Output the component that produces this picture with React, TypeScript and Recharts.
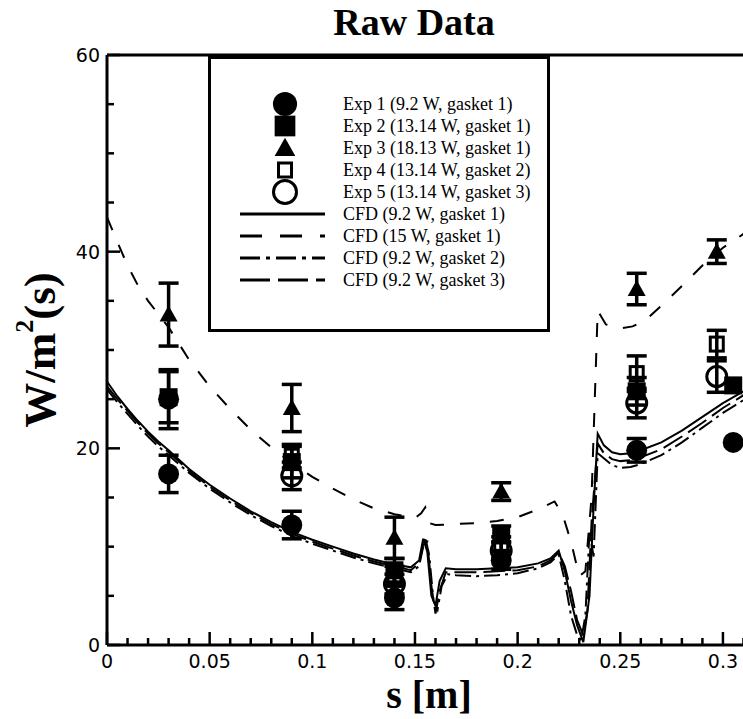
import React from 'react';
import { ComposedChart, Line, Scatter, XAxis, YAxis, ErrorBar, Legend } from 'recharts';

// ---------- tick labels ----------
const xTicks = [0, 0.01, 0.02, 0.03, 0.04, 0.05, 0.06, 0.07, 0.08, 0.09, 0.1, 0.11, 0.12, 0.13, 0.14, 0.15, 0.16, 0.17, 0.18, 0.19, 0.2, 0.21, 0.22, 0.23, 0.24, 0.25, 0.26, 0.27, 0.28, 0.29, 0.3, 0.31];
const xMajorTicks = [0, 0.05, 0.1, 0.15, 0.2, 0.25, 0.3];
const xMajorLabels = ['0', '0.05', '0.1', '0.15', '0.2', '0.25', '0.3'];
const yTicks = [0, 5, 10, 15, 20, 25, 30, 35, 40, 45, 50, 55, 60];
const yMajorTicks = [0, 20, 40, 60];
const yMajorLabels = ['0', '20', '40', '60'];

// ---------- experimental series ----------
const exp1X = [0.03, 0.03, 0.09, 0.14, 0.192, 0.258, 0.305];
const exp1Y = [17.4, 25.0, 12.2, 4.8, 8.6, 19.8, 20.6];
const exp1E = [1.9, 3.0, 1.4, 1.2, 0.9, 1.2, 0];

const exp2X = [0.03, 0.09, 0.14, 0.192, 0.258, 0.305];
const exp2Y = [25.2, 18.6, 7.6, 11.3, 25.8, 26.4];
const exp2E = [2.6, 1.6, 1.2, 0.8, 1.4, 0];

const exp3X = [0.03, 0.09, 0.14, 0.192, 0.258, 0.297];
const exp3Y = [33.6, 24.1, 10.9, 15.6, 36.2, 40.0];
const exp3E = [3.2, 2.4, 2.1, 0.9, 1.6, 1.2];

const exp4X = [0.09, 0.14, 0.192, 0.258, 0.297];
const exp4Y = [19.2, 7.0, 10.3, 27.6, 30.6];
const exp4E = [1.2, 1.0, 0.7, 1.8, 1.4];

const exp5X = [0.09, 0.14, 0.192, 0.258, 0.297];
const exp5Y = [17.2, 6.2, 9.6, 24.6, 27.3];
const exp5E = [1.4, 1.0, 0.8, 1.5, 1.6];

// ---------- CFD series ----------
const cfd1X = [0, 0.005, 0.01, 0.015, 0.02, 0.025, 0.03, 0.04, 0.05, 0.06, 0.07, 0.08, 0.09, 0.1, 0.11, 0.12, 0.13, 0.14, 0.148, 0.152, 0.154, 0.156, 0.158, 0.16, 0.162, 0.165, 0.17, 0.18, 0.19, 0.2, 0.21, 0.216, 0.22, 0.223, 0.226, 0.229, 0.232, 0.235, 0.237, 0.239, 0.242, 0.246, 0.25, 0.255, 0.26, 0.27, 0.28, 0.29, 0.3, 0.31, 0.32];
const cfd1Y = [26.8, 25.3, 24.0, 22.8, 21.7, 20.7, 19.8, 17.9, 16.3, 14.9, 13.6, 12.5, 11.5, 10.7, 10.0, 9.3, 8.7, 8.2, 7.9, 8.6, 10.8, 9.5, 5.0, 4.0, 6.5, 7.8, 7.7, 7.7, 7.8, 7.9, 8.3, 8.8, 9.6, 7.5, 4.5, 2.0, 0.3, 5.0, 14.0, 21.5, 20.3, 19.6, 19.4, 19.5, 19.8, 20.6, 21.8, 23.2, 24.6, 25.8, 26.5];

const cfd2X = [0, 0.005, 0.01, 0.015, 0.02, 0.03, 0.04, 0.05, 0.06, 0.07, 0.08, 0.09, 0.1, 0.11, 0.12, 0.13, 0.14, 0.15, 0.153, 0.155, 0.157, 0.16, 0.17, 0.18, 0.19, 0.2, 0.21, 0.218, 0.222, 0.226, 0.23, 0.233, 0.236, 0.239, 0.243, 0.25, 0.256, 0.262, 0.27, 0.28, 0.29, 0.3, 0.31, 0.32];
const cfd2Y = [43.5, 41.0, 38.6, 36.6, 35.0, 32.3, 29.0, 26.3, 24.0, 21.9, 20.1, 18.5, 17.1, 15.9, 14.8, 13.9, 13.3, 12.9, 13.4, 14.0, 12.4, 12.2, 12.3, 12.4, 12.6, 13.0, 13.8, 14.6, 13.2, 10.5, 7.0, 7.5, 15.0, 34.0, 32.6, 32.2, 32.4, 33.0, 34.5, 36.5, 38.6, 40.4, 41.8, 43.0];

const cfd3X = [0, 0.005, 0.01, 0.015, 0.02, 0.025, 0.03, 0.04, 0.05, 0.06, 0.07, 0.08, 0.09, 0.1, 0.11, 0.12, 0.13, 0.14, 0.148, 0.152, 0.155, 0.157, 0.159, 0.161, 0.163, 0.166, 0.17, 0.18, 0.19, 0.2, 0.21, 0.216, 0.22, 0.223, 0.226, 0.229, 0.231, 0.233, 0.235, 0.237, 0.239, 0.242, 0.246, 0.25, 0.255, 0.26, 0.27, 0.28, 0.29, 0.3, 0.31, 0.32];
const cfd3Y = [26.0, 24.7, 23.5, 22.3, 21.2, 20.2, 19.3, 17.5, 15.9, 14.5, 13.2, 12.1, 11.1, 10.3, 9.6, 8.9, 8.3, 7.8, 7.4, 8.0, 11.0, 9.0, 4.5, 3.6, 6.0, 7.2, 7.1, 7.0, 7.1, 7.3, 7.8, 8.4, 9.2, 6.5, 3.0, 1.0, 0.5, 3.0, 11.5, 9.0, 19.5, 19.0, 18.3, 18.0, 18.1, 18.4, 19.3, 20.6, 22.1, 23.6, 24.9, 25.8];

const cfd4X = [0, 0.005, 0.01, 0.015, 0.02, 0.025, 0.03, 0.04, 0.05, 0.06, 0.07, 0.08, 0.09, 0.1, 0.11, 0.12, 0.13, 0.14, 0.148, 0.152, 0.154, 0.156, 0.158, 0.16, 0.162, 0.165, 0.17, 0.18, 0.19, 0.2, 0.21, 0.216, 0.22, 0.223, 0.226, 0.229, 0.232, 0.234, 0.236, 0.239, 0.242, 0.246, 0.25, 0.255, 0.26, 0.27, 0.28, 0.29, 0.3, 0.31, 0.32];
const cfd4Y = [26.3, 25.0, 23.8, 22.6, 21.5, 20.5, 19.6, 17.7, 16.1, 14.7, 13.4, 12.3, 11.3, 10.5, 9.8, 9.1, 8.5, 8.0, 7.6, 8.3, 10.2, 10.5, 6.0, 3.2, 5.5, 7.4, 7.4, 7.4, 7.5, 7.6, 8.0, 8.6, 9.4, 8.0, 5.5, 2.5, 1.0, 3.5, 12.5, 20.5, 19.5, 18.9, 18.7, 18.8, 19.1, 19.9, 21.2, 22.6, 24.1, 25.4, 26.2];

// ---------- legend labels ----------
const expNames = ['Exp 1 (9.2 W, gasket 1)', 'Exp 2 (13.14 W, gasket 1)', 'Exp 3 (18.13 W, gasket 1)', 'Exp 4 (13.14 W, gasket 2)', 'Exp 5 (13.14 W, gasket 3)'];
const cfdNames = ['CFD (9.2 W, gasket 1)', 'CFD (15 W, gasket 1)', 'CFD (9.2 W, gasket 2)', 'CFD (9.2 W, gasket 3)'];
const cfdDash = ['', '14 16', '16 5 3 5', '22 7'];
const legendDash = ['', '22 18', '20 6 4 6', '30 8'];

const toPts = (xs: number[], ys: number[], es?: number[]) =>
  xs.map((x, i) => ({ x, y: ys[i], err: es ? es[i] : 0 }));

const exp1 = toPts(exp1X, exp1Y, exp1E);
const exp2 = toPts(exp2X, exp2Y, exp2E);
const exp3 = toPts(exp3X, exp3Y, exp3E);
const exp4 = toPts(exp4X, exp4Y, exp4E);
const exp5 = toPts(exp5X, exp5Y, exp5E);
const cfd1 = toPts(cfd1X, cfd1Y);
const cfd2 = toPts(cfd2X, cfd2Y);
const cfd3 = toPts(cfd3X, cfd3Y);
const cfd4 = toPts(cfd4X, cfd4Y);

const SERIF = '"Liberation Serif", "Times New Roman", serif';
const SANS = '"DejaVu Sans", Arial, sans-serif';

// ---------- marker shapes ----------
const Marker = ({ kind, cx, cy, big }: { kind: number; cx: number; cy: number; big?: boolean }) => {
  const k = big ? 1.15 : 1;
  if (kind === 0) return <circle cx={cx} cy={cy} r={10.5 * k} fill="#000" />;
  if (kind === 1) return <rect x={cx - 9 * k} y={cy - 9 * k} width={18 * k} height={18 * k} fill="#000" />;
  if (kind === 2)
    return <polygon points={`${cx},${cy - 9 * k} ${cx - 9 * k},${cy + 7 * k} ${cx + 9 * k},${cy + 7 * k}`} fill="#000" />;
  if (kind === 3)
    return <rect x={cx - 6.5} y={cy - 7} width={13} height={14} fill="none" stroke="#000" strokeWidth={3} />;
  return <circle cx={cx} cy={cy} r={10 * k} fill="none" stroke="#000" strokeWidth={3} />;
};

const shapeFor = (kind: number) => (p: any) => <Marker kind={kind} cx={p.cx} cy={p.cy} />;

// ---------- ticks ----------
const XTick = (p: any) => {
  const v = p.payload.value;
  const i = xMajorTicks.indexOf(v);
  const major = i >= 0;
  return (
    <g>
      <line x1={p.x} x2={p.x} y1={p.y} y2={p.y - (major ? 13 : 7)} stroke="#000" strokeWidth={2.5} />
      {major && (
        <text x={p.x} y={p.y + 23} textAnchor="middle" fontFamily={SANS} fontSize={19} fill="#000">
          {xMajorLabels[i]}
        </text>
      )}
    </g>
  );
};

const YTick = (p: any) => {
  const v = p.payload.value;
  const i = yMajorTicks.indexOf(v);
  const major = i >= 0;
  return (
    <g>
      <line x1={p.x} x2={p.x + (major ? 13 : 7)} y1={p.y} y2={p.y} stroke="#000" strokeWidth={2.5} />
      {major && (
        <text x={p.x - 7} y={p.y} dy="0.36em" textAnchor="end" fontFamily={SANS} fontSize={19} fill="#000">
          {yMajorLabels[i]}
        </text>
      )}
    </g>
  );
};

// ---------- legend ----------
const LegendBox = () => {
  const rowY = (i: number) => 48 + i * 22;
  return (
    <svg width={342} height={276} style={{ display: 'block' }}>
      <rect x={1.5} y={1.5} width={339} height={273} fill="#fff" stroke="#000" strokeWidth={3} />
      {expNames.map((n, i) => (
        <g key={n}>
          <Marker kind={i} cx={77} cy={rowY(i)} big />
          <text x={135} y={rowY(i)} dy="0.33em" fontFamily={SERIF} fontSize={18} fill="#000">
            {n}
          </text>
        </g>
      ))}
      {cfdNames.map((n, j) => (
        <g key={n}>
          <line
            x1={32}
            x2={117}
            y1={rowY(j + 5)}
            y2={rowY(j + 5)}
            stroke="#000"
            strokeWidth={3}
            strokeDasharray={legendDash[j] || undefined}
          />
          <text x={135} y={rowY(j + 5)} dy="0.33em" fontFamily={SERIF} fontSize={18} fill="#000">
            {n}
          </text>
        </g>
      ))}
    </svg>
  );
};

const titleLabel = () => (
  <text x={414} y={35} textAnchor="middle" fontFamily={SERIF} fontWeight="bold" fontSize={38} fill="#000">
    Raw Data
  </text>
);
const xLabel = () => (
  <text x={429} y={708} textAnchor="middle" fontFamily={SERIF} fontWeight="bold" fontSize={40} fill="#000">
    s [m]
  </text>
);
const yLabel = () => (
  <text x={55} y={350} transform="rotate(-90, 55, 350)" textAnchor="middle" fontFamily={SERIF} fontWeight="bold" fontSize={45} fill="#000">
    W/m
    <tspan fontSize={26} dy={-22}>2</tspan>
    <tspan dy={22}>(s)</tspan>
  </text>
);

export default function App() {
  return (
    <div style={{ position: 'absolute', left: 0, top: 0, width: 743, height: 719, overflow: 'hidden', background: '#fff' }}>
      <ComposedChart width={770} height={719} margin={{ top: 35, right: 6, bottom: 44, left: 47 }}>
        <XAxis
          dataKey="x"
          type="number"
          domain={[0, 0.32]}
          allowDataOverflow
          ticks={xTicks}
          interval={0}
          tick={<XTick />}
          tickLine={false}
          tickSize={0}
          tickMargin={0}
          height={30}
          axisLine={{ stroke: '#000', strokeWidth: 3 }}
          label={{ content: xLabel }}
        />
        <XAxis
          xAxisId="top"
          orientation="top"
          dataKey="x"
          type="number"
          domain={[0, 0.32]}
          allowDataOverflow
          tick={false}
          tickLine={false}
          height={20}
          axisLine={{ stroke: '#000', strokeWidth: 3 }}
          label={{ content: titleLabel }}
        />
        <YAxis
          dataKey="y"
          type="number"
          domain={[0, 60]}
          allowDataOverflow
          ticks={yTicks}
          interval={0}
          tick={<YTick />}
          tickLine={false}
          tickSize={0}
          tickMargin={0}
          width={60}
          axisLine={{ stroke: '#000', strokeWidth: 3 }}
          label={{ content: yLabel }}
        />
        <Legend
          layout="vertical"
          align="center"
          verticalAlign="middle"
          content={() => <LegendBox />}
          wrapperStyle={{ position: 'absolute', left: 208, top: 56, width: 342, height: 276 }}
        />
        <Line data={cfd1} dataKey="y" type="linear" dot={false} stroke="#000" strokeWidth={2} isAnimationActive={false} legendType="none" />
        <Line data={cfd2} dataKey="y" type="linear" dot={false} stroke="#000" strokeWidth={2} strokeDasharray={cfdDash[1]} isAnimationActive={false} legendType="none" />
        <Line data={cfd3} dataKey="y" type="linear" dot={false} stroke="#000" strokeWidth={2} strokeDasharray={cfdDash[2]} isAnimationActive={false} legendType="none" />
        <Line data={cfd4} dataKey="y" type="linear" dot={false} stroke="#000" strokeWidth={2} strokeDasharray={cfdDash[3]} isAnimationActive={false} legendType="none" />
        <Scatter data={exp3} dataKey="y" shape={shapeFor(2)} isAnimationActive={false}>
          <ErrorBar dataKey="err" direction="y" width={10} stroke="#000" strokeWidth={3.5} />
        </Scatter>
        <Scatter data={exp4} dataKey="y" shape={shapeFor(3)} isAnimationActive={false}>
          <ErrorBar dataKey="err" direction="y" width={10} stroke="#000" strokeWidth={3.5} />
        </Scatter>
        <Scatter data={exp5} dataKey="y" shape={shapeFor(4)} isAnimationActive={false}>
          <ErrorBar dataKey="err" direction="y" width={10} stroke="#000" strokeWidth={3.5} />
        </Scatter>
        <Scatter data={exp2} dataKey="y" shape={shapeFor(1)} isAnimationActive={false}>
          <ErrorBar dataKey="err" direction="y" width={10} stroke="#000" strokeWidth={3.5} />
        </Scatter>
        <Scatter data={exp1} dataKey="y" shape={shapeFor(0)} isAnimationActive={false}>
          <ErrorBar dataKey="err" direction="y" width={10} stroke="#000" strokeWidth={3.5} />
        </Scatter>
      </ComposedChart>
    </div>
  );
}
